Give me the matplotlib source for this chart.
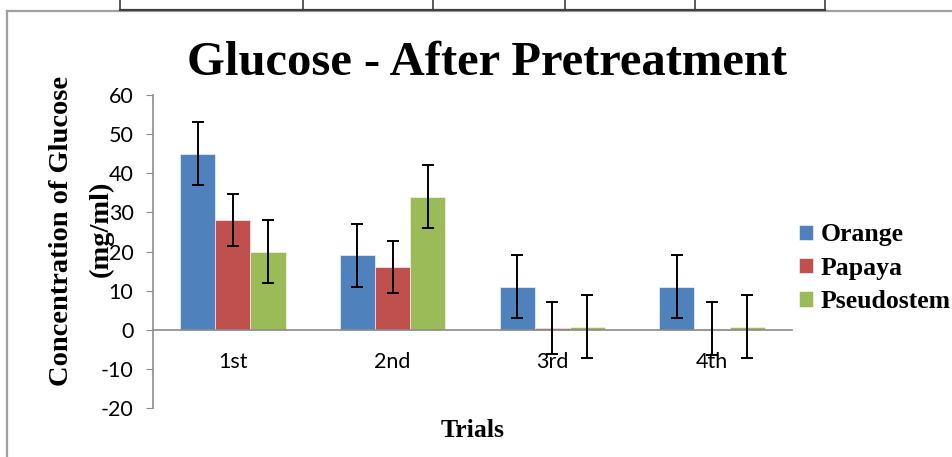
import numpy as np
import matplotlib.pyplot as plt
from matplotlib.lines import Line2D

plt.rcParams['axes.unicode_minus'] = False

# data
trials = ['1st', '2nd', '3rd', '4th']
orange = [45, 19, 11, 11]
papaya = [28, 16, 0.5, 0.3]
pseudostem = [20, 34, 0.8, 0.8]
orange_err = [8, 8, 8, 8]
papaya_err = [6.7, 6.7, 6.7, 6.7]
pseudostem_err = [8, 8, 8, 8]

series = [('Orange', orange, orange_err, '#4F81BD'),
          ('Papaya', papaya, papaya_err, '#C0504D'),
          ('Pseudostem', pseudostem, pseudostem_err, '#9BBB59')]

serif = ['Liberation Serif', 'DejaVu Serif']
sans = ['Lato', 'DejaVu Sans']

fig = plt.figure(figsize=(9.53, 4.57), dpi=100)
ax = fig.add_axes([0.1605, 0.1072, 0.6705, 0.6849])

x = np.arange(len(trials))
w = 0.22
for i, (name, vals, errs, col) in enumerate(series):
    ax.bar(x + (i - 1) * w, vals, w, color=col, edgecolor='white', linewidth=0.4,
           label=name, zorder=2)
    ax.errorbar(x + (i - 1) * w, vals, yerr=errs, fmt='none', ecolor='black',
                elinewidth=1.4, capsize=4, capthick=1.4, zorder=3)

ax.set_xlim(-0.5, 3.5)
ax.set_ylim(-20, 60)
ax.set_yticks(range(-20, 61, 10))
ax.set_xticks(x)
ax.set_xticklabels(trials)

for s in ['top', 'right']:
    ax.spines[s].set_visible(False)
ax.spines['bottom'].set_position(('data', 0))
ax.spines['bottom'].set_color('#8c8c8c')
ax.spines['left'].set_color('#8c8c8c')
ax.spines['bottom'].set_linewidth(1.2)
ax.spines['left'].set_linewidth(1.2)
ax.tick_params(axis='x', length=0, pad=16, labelsize=15.5)
ax.tick_params(axis='y', length=5, color='#8c8c8c', labelsize=15.5, pad=9)
for lab in ax.get_xticklabels() + ax.get_yticklabels():
    lab.set_family(sans)

fig.text(0.511, 0.862, 'Glucose - After Pretreatment', ha='center', va='center',
         family=serif, fontweight='bold', fontsize=35)
fig.text(0.496, 0.057, 'Trials', ha='center', va='center',
         family=serif, fontweight='bold', fontsize=18.5)
fig.text(0.065, 0.495, 'Concentration of Glucose', ha='center', va='center',
         rotation=90, family=serif, fontweight='bold', fontsize=20.5)
fig.text(0.106, 0.50, '(mg/ml)', ha='center', va='center',
         rotation=90, family=serif, fontweight='bold', fontsize=20.5)

ax.legend(loc='center left', bbox_to_anchor=(0.838, 0.413), bbox_transform=fig.transFigure,
          frameon=False, prop={'family': serif, 'weight': 'bold', 'size': 18.5},
          handlelength=0.55, handleheight=0.55, handletextpad=0.3, labelspacing=0.4,
          borderaxespad=0, borderpad=0)

# page frame and table edge from the source document
W, H = 953, 457
def fline(xs, ys, **kw):
    fig.add_artist(Line2D([v / W for v in xs], [1 - v / H for v in ys],
                          transform=fig.transFigure, **kw))

fline([7.5, W], [10.5, 10.5], color='#a0a0a0', linewidth=1.6)
fline([7.5, 7.5], [10.5, H], color='#a0a0a0', linewidth=1.6)
fline([120, 825], [9.5, 9.5], color='#404040', linewidth=1.6)
for xv in [120, 303, 433, 565, 695, 825]:
    fline([xv, xv], [0, 9.5], color='#404040', linewidth=1.2)

fig.savefig('out.png', dpi=100)
